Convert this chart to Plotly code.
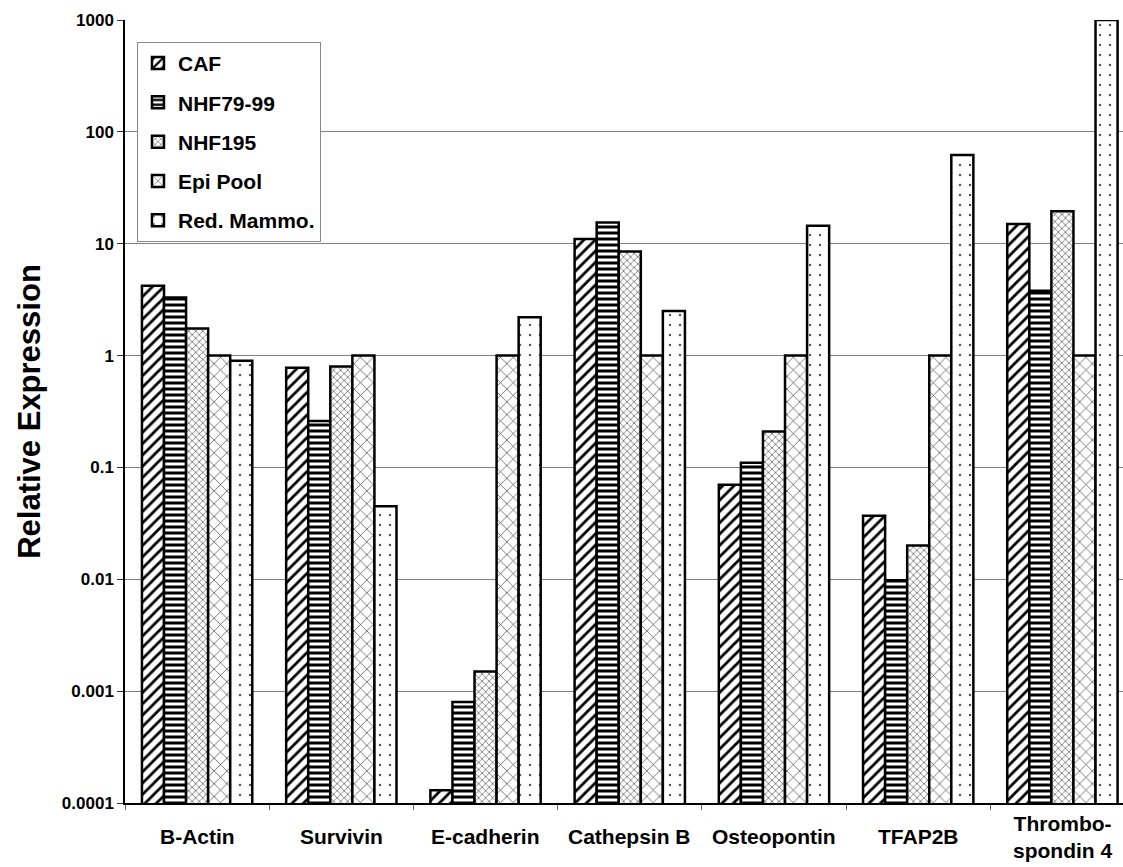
import plotly.graph_objects as go

genes = ["B-Actin", "Survivin", "E-cadherin", "Cathepsin B", "Osteopontin",
         "TFAP2B", "Thrombo-<br>spondin 4"]

caf = [4.2, 0.78, 0.00013, 11.0, 0.07, 0.037, 15.0]
nhf79_99 = [3.3, 0.26, 0.0008, 15.5, 0.11, 0.0098, 3.8]
nhf195 = [1.75, 0.8, 0.0015, 8.5, 0.21, 0.02, 19.5]
epi_pool = [1.0, 1.0, 1.0, 1.0, 1.0, 1.0, 1.0]
red_mammo = [0.9, 0.045, 2.2, 2.5, 14.5, 62.0, 1000.0]

y_ticks = [1000, 100, 10, 1, 0.1, 0.01, 0.001, 0.0001]
y_tick_text = ["1000", "100", "10", "1", "0.1", "0.01", "0.001", "0.0001"]

series = [
    ("CAF", caf, dict(shape="/", size=8, solidity=0.35, fgcolor="black")),
    ("NHF79-99", nhf79_99, dict(shape="-", size=6, solidity=0.5, fgcolor="black")),
    ("NHF195", nhf195, dict(shape="x", size=5, solidity=0.25, fgcolor="#555555")),
    ("Epi Pool", epi_pool, dict(shape="x", size=9, solidity=0.15, fgcolor="#444444")),
    ("Red. Mammo.", red_mammo, dict(shape=".", size=10, solidity=0.05, fgcolor="#555555")),
]

FONT = "Liberation Sans"

fig = go.Figure()
for i, (name, vals, pat) in enumerate(series):
    fig.add_trace(go.Bar(
        name=name, x=genes, y=vals, legendgroup=f"g{i}",
        marker=dict(color="white", line=dict(color="black", width=2.5),
                    pattern=dict(bgcolor="white", fgopacity=1, **pat)),
    ))

# Category labels placed under each group
for g in genes:
    fig.add_annotation(x=g, y=-0.043, xref="x", yref="paper", text=f"<b>{g}</b>",
                       showarrow=False, yanchor="middle",
                       font=dict(family=FONT, size=21, color="black"))

fig.update_layout(
    width=1123, height=867,
    margin=dict(l=125, r=0, t=20, b=64),
    plot_bgcolor="white", paper_bgcolor="white",
    barmode="group", bargap=0.235, bargroupgap=0,
    font=dict(family=FONT, color="black"),
    legend=dict(x=0.012, y=0.972, xanchor="left", yanchor="top",
                bgcolor="white", bordercolor="#888888", borderwidth=1,
                font=dict(size=21, family=FONT, weight="bold"),
                tracegroupgap=9, traceorder="grouped", itemwidth=30),
    xaxis=dict(showticklabels=False, ticks="outside", tickson="boundaries",
               ticklen=5, tickcolor="#666666", showline=True, linecolor="black",
               linewidth=1.5, showgrid=False, range=[-0.5, 6.42]),
    yaxis=dict(type="log", range=[-4, 3], tickvals=y_ticks, ticktext=y_tick_text,
               ticks="outside", ticklen=6, tickcolor="#333333",
               showline=True, linecolor="black", linewidth=1.5,
               showgrid=True, gridcolor="#808080", gridwidth=1,
               tickfont=dict(size=17, family=FONT, weight="bold"),
               title=dict(text="<b>Relative Expression</b>", standoff=12,
                          font=dict(size=31, family=FONT))),
)

fig.write_html("out.html")
